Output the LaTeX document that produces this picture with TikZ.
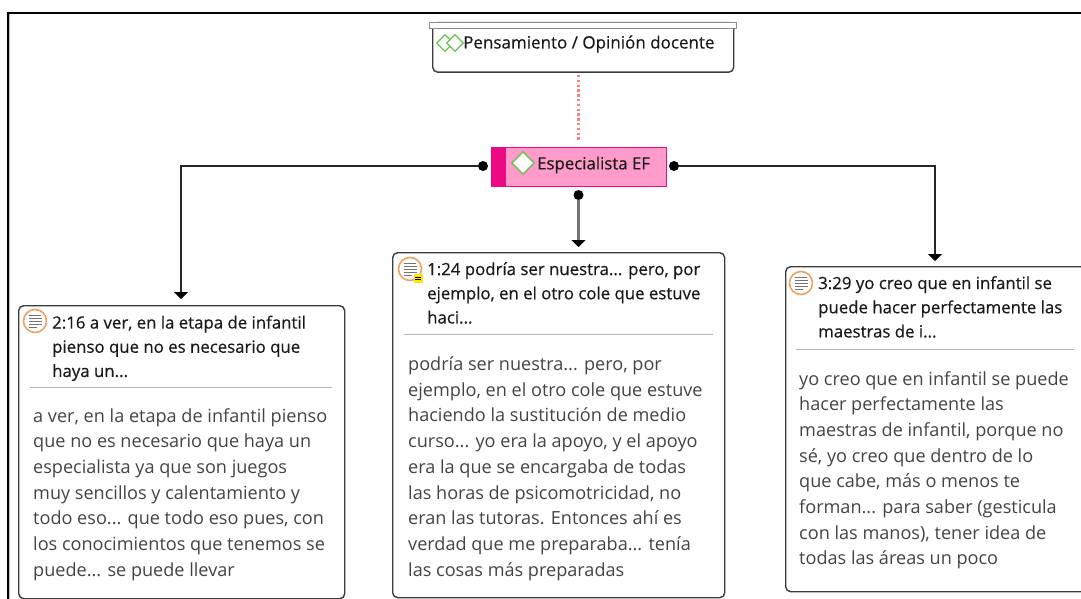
\documentclass[tikz,border=0pt]{standalone}
\usepackage{fontspec}
\setmainfont{Open Sans}
\newfontfamily\semib[FakeBold=0.5]{Open Sans}
\usetikzlibrary{arrows.meta,shapes.geometric,calc}
\definecolor{ink}{HTML}{1A1A1A}
\definecolor{bodyc}{HTML}{444444}
\definecolor{rulec}{HTML}{B4B4B4}
\definecolor{mag}{HTML}{EC0A82}
\definecolor{pinkf}{HTML}{FE9BCB}
\definecolor{greend}{HTML}{6CC254}
\definecolor{orangec}{HTML}{F0A060}
\definecolor{dotc}{HTML}{FF8080}
\tikzset{x=1pt,y=-1pt,
 card/.style={draw=ink!85,line width=1.4pt,rounded corners=5pt,fill=white,anchor=north west,inner sep=0pt},
 titletxt/.style={anchor=north west,align=left,inner sep=0pt,text=ink,font=\semib\fontsize{16.8}{24.2}\selectfont},
 bodytxt/.style={anchor=north west,align=left,inner sep=0pt,text=bodyc,font=\fontsize{18.1}{25.7}\selectfont},
 sepline/.style={draw=rulec,line width=1.2pt},
 dotend/.style={circle,fill=black,inner sep=0pt,minimum size=10pt},
 conn/.style={draw=black!85,line width=1.4pt,-{Triangle[length=7pt,width=14pt,color=black]}},
 gem/.style={diamond,draw=greend,line width=1.4pt,fill=white,inner sep=0pt,minimum size=23pt},
 qicon/.style={circle,draw=orangec,line width=1.6pt,fill=white,inner sep=0pt,minimum size=23pt}}
\newcommand{\qlines}[1]{%
 \foreach \d/\w in {-6/12,-3/13,0/13,3/13,6/8}{
  \draw[black!55,line width=0.9pt] ($(#1)+(-6.5,\d)$) -- ++(\w,0);}}
\begin{document}
\begin{tikzpicture}
\useasboundingbox (0,0) rectangle (1081,599);
\fill[white] (0,0) rectangle (1081,599);
\draw[black,line width=1.8pt] (8,599) -- (8,13) -- (1081,13);
\draw[black!25,line width=1pt] (9.5,599) -- (9.5,14.5);

% top code
\node[card,minimum width=301pt,minimum height=49.5pt] (top) at (432,22) {};
\node[draw=black!45,line width=1.4pt,fill=white,anchor=north west,inner sep=0pt,minimum width=307pt,minimum height=6pt] (topbar) at (429,22) {};
\node[gem,minimum size=17pt,line width=1.3pt] (g1) at (445,43) {};
\node[gem,minimum size=17pt,line width=1.3pt] (g2) at (455,43) {};
\node[anchor=west,inner sep=0pt,text=ink,font=\semib\fontsize{17}{20}\selectfont] (toptxt) at (463,44) {Pensamiento / Opinión docente};

% central code
\node[draw=mag,line width=1pt,fill=pinkf,anchor=north west,inner sep=0pt,minimum width=175pt,minimum height=39pt] (esp) at (491,147) {};
\fill[mag] (491,147) rectangle (506,186);
\node[gem] (g3) at (523,163) {};
\node[anchor=west,inner sep=0pt,text=ink,font=\semib\fontsize{16.8}{20}\selectfont] (esptxt) at (537,165) {Especialista EF};

\node[dotend] (dl) at (483,166) {};
\node[dotend] (dr) at (674,166) {};
\node[dotend] (db) at (578.5,195) {};

\coordinate (dottop) at (578.5,75);
\coordinate (dotbot) at (578.5,141);
\draw[dotc,line width=2.4pt,dash pattern=on 2.4pt off 2.4pt] (dottop) -- (dotbot);

% cards
\node[card,minimum width=326pt,minimum height=293pt] (c1) at (18,305) {};
\node[card,minimum width=332pt,minimum height=345pt] (c2) at (392,252) {};
\node[card,minimum width=300pt,minimum height=325pt] (c3) at (785,266) {};

% connectors
\coordinate (a1) at (181,299);
\coordinate (a2) at (578.5,247);
\coordinate (a3) at (935,261);
\draw[conn] (dl) -| (a1);
\draw[conn,draw=black!55,line width=2.4pt] (db) -- (a2);
\draw[conn] (dr) -| (a3);

% card 1
\node[qicon] (q1) at (35,321) {};
\qlines{q1}
\node[titletxt] (t1) at (52,315.5) {2:16 a ver, en la etapa de infantil\\pienso que no es necesario que\\haya un...};
\coordinate (s1a) at (30,387.5); \coordinate (s1b) at (332,387.5);
\draw[sepline] (s1a) -- (s1b);
\node[bodytxt] (b1) at (33,408) {a ver, en la etapa de infantil pienso\\que no es necesario que haya un\\especialista ya que son juegos\\muy sencillos y calentamiento y\\todo eso... que todo eso pues, con\\los conocimientos que tenemos se\\puede... se puede llevar};

% card 2
\node[qicon] (q2) at (410,269) {};
\qlines{q2}
\node[fill=yellow!90!orange,minimum width=9pt,minimum height=9pt,inner sep=0pt] (y2) at (418,278) {};
\draw[black,line width=.8pt] (415,277) -- (421,277) (415,279.5) -- (421,279.5);
\node[titletxt] (t2) at (427,262) {1:24 podría ser nuestra... pero, por\\ejemplo, en el otro cole que estuve\\haci...};
\coordinate (s2a) at (404,334.5); \coordinate (s2b) at (713,334.5);
\draw[sepline] (s2a) -- (s2b);
\node[bodytxt] (b2) at (408,356.5) {podría ser nuestra... pero, por\\ejemplo, en el otro cole que estuve\\haciendo la sustitución de medio\\curso... yo era la apoyo, y el apoyo\\era la que se encargaba de todas\\las horas de psicomotricidad, no\\eran las tutoras. Entonces ahí es\\verdad que me preparaba... tenía\\las cosas más preparadas};

% card 3
\node[qicon] (q3) at (801,283) {};
\qlines{q3}
\node[titletxt] (t3) at (818,276) {3:29 yo creo que en infantil se\\puede hacer perfectamente las\\maestras de i...};
\coordinate (s3a) at (796,349.5); \coordinate (s3b) at (1074,349.5);
\draw[sepline] (s3a) -- (s3b);
\node[bodytxt] (b3) at (799,371) {yo creo que en infantil se puede\\hacer perfectamente las\\maestras de infantil, porque no\\sé, yo creo que dentro de lo\\que cabe, más o menos te\\forman... para saber (gesticula\\con las manos), tener idea de\\todas las áreas un poco};
\end{tikzpicture}
\end{document}
